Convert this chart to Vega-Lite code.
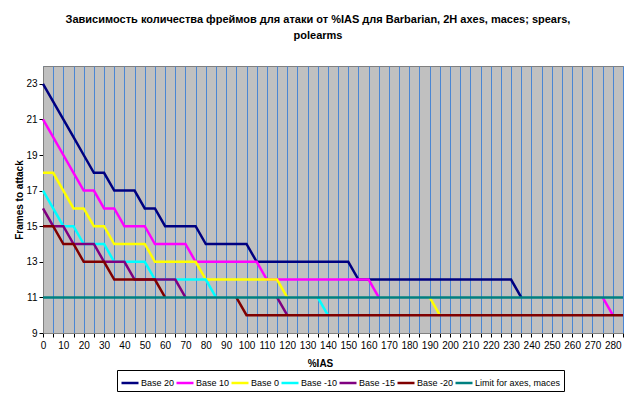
{
  "$schema": "https://vega.github.io/schema/vega-lite/v6.json",
  "width": 580,
  "height": 267,
  "autosize": {"type": "none"},
  "padding": {"left": 43, "top": 66, "right": 17, "bottom": 66},
  "background": "#ffffff",
  "config": {
    "font": "Liberation Sans",
    "view": {"fill": "#C0C0C0", "stroke": "#808080", "strokeWidth": 1}
  },
  "title": {
    "text": ["Зависимость количества фреймов для атаки от %IAS для Barbarian, 2H axes, maces; spears,", "polearms"],
    "font": "Liberation Sans",
    "fontSize": 11,
    "fontWeight": "bold",
    "color": "#000000",
    "lineHeight": 16,
    "anchor": "middle",
    "offset": 25,
    "dx": -15
  },
  "data": {
    "values": [
      {"x": 0, "Base 20": 23, "Base 10": 21, "Base 0": 18, "Base -10": 17, "Base -15": 16, "Base -20": 15, "Limit for axes, maces": 11},
      {"x": 5, "Base 20": 22, "Base 10": 20, "Base 0": 18, "Base -10": 16, "Base -15": 15, "Base -20": 15, "Limit for axes, maces": 11},
      {"x": 10, "Base 20": 21, "Base 10": 19, "Base 0": 17, "Base -10": 15, "Base -15": 15, "Base -20": 14, "Limit for axes, maces": 11},
      {"x": 15, "Base 20": 20, "Base 10": 18, "Base 0": 16, "Base -10": 15, "Base -15": 14, "Base -20": 14, "Limit for axes, maces": 11},
      {"x": 20, "Base 20": 19, "Base 10": 17, "Base 0": 16, "Base -10": 14, "Base -15": 14, "Base -20": 13, "Limit for axes, maces": 11},
      {"x": 25, "Base 20": 18, "Base 10": 17, "Base 0": 15, "Base -10": 14, "Base -15": 14, "Base -20": 13, "Limit for axes, maces": 11},
      {"x": 30, "Base 20": 18, "Base 10": 16, "Base 0": 15, "Base -10": 14, "Base -15": 13, "Base -20": 13, "Limit for axes, maces": 11},
      {"x": 35, "Base 20": 17, "Base 10": 16, "Base 0": 14, "Base -10": 13, "Base -15": 13, "Base -20": 12, "Limit for axes, maces": 11},
      {"x": 40, "Base 20": 17, "Base 10": 15, "Base 0": 14, "Base -10": 13, "Base -15": 13, "Base -20": 12, "Limit for axes, maces": 11},
      {"x": 45, "Base 20": 17, "Base 10": 15, "Base 0": 14, "Base -10": 13, "Base -15": 12, "Base -20": 12, "Limit for axes, maces": 11},
      {"x": 50, "Base 20": 16, "Base 10": 15, "Base 0": 14, "Base -10": 13, "Base -15": 12, "Base -20": 12, "Limit for axes, maces": 11},
      {"x": 55, "Base 20": 16, "Base 10": 14, "Base 0": 13, "Base -10": 12, "Base -15": 12, "Base -20": 12, "Limit for axes, maces": 11},
      {"x": 60, "Base 20": 15, "Base 10": 14, "Base 0": 13, "Base -10": 12, "Base -15": 12, "Base -20": 11, "Limit for axes, maces": 11},
      {"x": 65, "Base 20": 15, "Base 10": 14, "Base 0": 13, "Base -10": 12, "Base -15": 12, "Base -20": null, "Limit for axes, maces": 11},
      {"x": 70, "Base 20": 15, "Base 10": 14, "Base 0": 13, "Base -10": 12, "Base -15": 11, "Base -20": null, "Limit for axes, maces": 11},
      {"x": 75, "Base 20": 15, "Base 10": 13, "Base 0": 13, "Base -10": 12, "Base -15": null, "Base -20": null, "Limit for axes, maces": 11},
      {"x": 80, "Base 20": 14, "Base 10": 13, "Base 0": 12, "Base -10": 12, "Base -15": null, "Base -20": null, "Limit for axes, maces": 11},
      {"x": 85, "Base 20": 14, "Base 10": 13, "Base 0": 12, "Base -10": 11, "Base -15": null, "Base -20": null, "Limit for axes, maces": 11},
      {"x": 90, "Base 20": 14, "Base 10": 13, "Base 0": 12, "Base -10": null, "Base -15": null, "Base -20": null, "Limit for axes, maces": 11},
      {"x": 95, "Base 20": 14, "Base 10": 13, "Base 0": 12, "Base -10": null, "Base -15": null, "Base -20": 11, "Limit for axes, maces": 11},
      {"x": 100, "Base 20": 14, "Base 10": 13, "Base 0": 12, "Base -10": null, "Base -15": null, "Base -20": 10, "Limit for axes, maces": 11},
      {"x": 105, "Base 20": 13, "Base 10": 13, "Base 0": 12, "Base -10": null, "Base -15": null, "Base -20": 10, "Limit for axes, maces": 11},
      {"x": 110, "Base 20": 13, "Base 10": 12, "Base 0": 12, "Base -10": null, "Base -15": null, "Base -20": 10, "Limit for axes, maces": 11},
      {"x": 115, "Base 20": 13, "Base 10": 12, "Base 0": 12, "Base -10": null, "Base -15": 11, "Base -20": 10, "Limit for axes, maces": 11},
      {"x": 120, "Base 20": 13, "Base 10": 12, "Base 0": 11, "Base -10": null, "Base -15": 10, "Base -20": 10, "Limit for axes, maces": 11},
      {"x": 125, "Base 20": 13, "Base 10": 12, "Base 0": null, "Base -10": null, "Base -15": null, "Base -20": 10, "Limit for axes, maces": 11},
      {"x": 130, "Base 20": 13, "Base 10": 12, "Base 0": null, "Base -10": null, "Base -15": null, "Base -20": 10, "Limit for axes, maces": 11},
      {"x": 135, "Base 20": 13, "Base 10": 12, "Base 0": null, "Base -10": 11, "Base -15": null, "Base -20": 10, "Limit for axes, maces": 11},
      {"x": 140, "Base 20": 13, "Base 10": 12, "Base 0": null, "Base -10": 10, "Base -15": null, "Base -20": 10, "Limit for axes, maces": 11},
      {"x": 145, "Base 20": 13, "Base 10": 12, "Base 0": null, "Base -10": null, "Base -15": null, "Base -20": 10, "Limit for axes, maces": 11},
      {"x": 150, "Base 20": 13, "Base 10": 12, "Base 0": null, "Base -10": null, "Base -15": null, "Base -20": 10, "Limit for axes, maces": 11},
      {"x": 155, "Base 20": 12, "Base 10": 12, "Base 0": null, "Base -10": null, "Base -15": null, "Base -20": 10, "Limit for axes, maces": 11},
      {"x": 160, "Base 20": 12, "Base 10": 12, "Base 0": null, "Base -10": null, "Base -15": null, "Base -20": 10, "Limit for axes, maces": 11},
      {"x": 165, "Base 20": 12, "Base 10": 11, "Base 0": null, "Base -10": null, "Base -15": null, "Base -20": 10, "Limit for axes, maces": 11},
      {"x": 170, "Base 20": 12, "Base 10": null, "Base 0": null, "Base -10": null, "Base -15": null, "Base -20": 10, "Limit for axes, maces": 11},
      {"x": 175, "Base 20": 12, "Base 10": null, "Base 0": null, "Base -10": null, "Base -15": null, "Base -20": 10, "Limit for axes, maces": 11},
      {"x": 180, "Base 20": 12, "Base 10": null, "Base 0": null, "Base -10": null, "Base -15": null, "Base -20": 10, "Limit for axes, maces": 11},
      {"x": 185, "Base 20": 12, "Base 10": null, "Base 0": null, "Base -10": null, "Base -15": null, "Base -20": 10, "Limit for axes, maces": 11},
      {"x": 190, "Base 20": 12, "Base 10": null, "Base 0": 11, "Base -10": null, "Base -15": null, "Base -20": 10, "Limit for axes, maces": 11},
      {"x": 195, "Base 20": 12, "Base 10": null, "Base 0": 10, "Base -10": null, "Base -15": null, "Base -20": 10, "Limit for axes, maces": 11},
      {"x": 200, "Base 20": 12, "Base 10": null, "Base 0": null, "Base -10": null, "Base -15": null, "Base -20": 10, "Limit for axes, maces": 11},
      {"x": 205, "Base 20": 12, "Base 10": null, "Base 0": null, "Base -10": null, "Base -15": null, "Base -20": 10, "Limit for axes, maces": 11},
      {"x": 210, "Base 20": 12, "Base 10": null, "Base 0": null, "Base -10": null, "Base -15": null, "Base -20": 10, "Limit for axes, maces": 11},
      {"x": 215, "Base 20": 12, "Base 10": null, "Base 0": null, "Base -10": null, "Base -15": null, "Base -20": 10, "Limit for axes, maces": 11},
      {"x": 220, "Base 20": 12, "Base 10": null, "Base 0": null, "Base -10": null, "Base -15": null, "Base -20": 10, "Limit for axes, maces": 11},
      {"x": 225, "Base 20": 12, "Base 10": null, "Base 0": null, "Base -10": null, "Base -15": null, "Base -20": 10, "Limit for axes, maces": 11},
      {"x": 230, "Base 20": 12, "Base 10": null, "Base 0": null, "Base -10": null, "Base -15": null, "Base -20": 10, "Limit for axes, maces": 11},
      {"x": 235, "Base 20": 11, "Base 10": null, "Base 0": null, "Base -10": null, "Base -15": null, "Base -20": 10, "Limit for axes, maces": 11},
      {"x": 240, "Base 20": null, "Base 10": null, "Base 0": null, "Base -10": null, "Base -15": null, "Base -20": 10, "Limit for axes, maces": 11},
      {"x": 245, "Base 20": null, "Base 10": null, "Base 0": null, "Base -10": null, "Base -15": null, "Base -20": 10, "Limit for axes, maces": 11},
      {"x": 250, "Base 20": null, "Base 10": null, "Base 0": null, "Base -10": null, "Base -15": null, "Base -20": 10, "Limit for axes, maces": 11},
      {"x": 255, "Base 20": null, "Base 10": null, "Base 0": null, "Base -10": null, "Base -15": null, "Base -20": 10, "Limit for axes, maces": 11},
      {"x": 260, "Base 20": null, "Base 10": null, "Base 0": null, "Base -10": null, "Base -15": null, "Base -20": 10, "Limit for axes, maces": 11},
      {"x": 265, "Base 20": null, "Base 10": null, "Base 0": null, "Base -10": null, "Base -15": null, "Base -20": 10, "Limit for axes, maces": 11},
      {"x": 270, "Base 20": null, "Base 10": null, "Base 0": null, "Base -10": null, "Base -15": null, "Base -20": 10, "Limit for axes, maces": 11},
      {"x": 275, "Base 20": null, "Base 10": 11, "Base 0": null, "Base -10": null, "Base -15": null, "Base -20": 10, "Limit for axes, maces": 11},
      {"x": 280, "Base 20": null, "Base 10": 10, "Base 0": null, "Base -10": null, "Base -15": null, "Base -20": 10, "Limit for axes, maces": 11},
      {"x": 285, "Base 20": null, "Base 10": null, "Base 0": null, "Base -10": null, "Base -15": null, "Base -20": 10, "Limit for axes, maces": 11}
    ]
  },
  "transform": [
    {"fold": ["Base 20", "Base 10", "Base 0", "Base -10", "Base -15", "Base -20", "Limit for axes, maces"], "as": ["series", "frames"]}
  ],
  "mark": {"type": "line", "strokeWidth": 2.5, "invalid": "break-paths-show-domains", "strokeJoin": "miter"},
  "encoding": {
    "x": {
      "field": "x",
      "type": "quantitative",
      "scale": {"domain": [0, 285], "nice": false, "zero": false},
      "axis": {
        "title": "%IAS",
        "titleFont": "Liberation Sans",
        "titleFontSize": 10,
        "titleFontWeight": "bold",
        "titleColor": "#000000",
        "titlePadding": 8,
        "titleX": 277,
        "values": [0,5,10,15,20,25,30,35,40,45,50,55,60,65,70,75,80,85,90,95,100,105,110,115,120,125,130,135,140,145,150,155,160,165,170,175,180,185,190,195,200,205,210,215,220,225,230,235,240,245,250,255,260,265,270,275,280,285],
        "labelExpr": "datum.value % 10 === 0 && datum.value < 285 ? datum.label : ''",
        "labelFont": "Liberation Sans",
        "labelFontSize": 10,
        "labelColor": "#000000",
        "labelPadding": 3,
        "labelOverlap": false,
        "labelFlush": false,
        "grid": true,
        "gridColor": "#4A86D4",
        "gridOpacity": 1,
        "gridWidth": 1,
        "domainColor": "#808080",
        "tickColor": "#000000",
        "tickSize": 4,
        "encode": {"ticks": {"update": {"opacity": {"signal": "datum.value % 10 === 0 ? 1 : 0"}}}}
      }
    },
    "y": {
      "field": "frames",
      "type": "quantitative",
      "scale": {"domain": [9, 24], "nice": false, "zero": false},
      "axis": {
        "title": "Frames to attack",
        "titleFont": "Liberation Sans",
        "titleFontSize": 10,
        "titleFontWeight": "bold",
        "titleColor": "#000000",
        "titlePadding": 1,
        "values": [9, 11, 13, 15, 17, 19, 21, 23],
        "labelFont": "Liberation Sans",
        "labelFontSize": 10,
        "labelColor": "#000000",
        "labelPadding": 2,
        "grid": false,
        "domainColor": "#808080",
        "tickColor": "#000000",
        "tickSize": 4
      }
    },
    "color": {
      "field": "series",
      "type": "nominal",
      "scale": {
        "domain": ["Base 20", "Base 10", "Base 0", "Base -10", "Base -15", "Base -20", "Limit for axes, maces"],
        "range": ["#000080", "#FF00FF", "#FFFF00", "#00FFFF", "#800080", "#800000", "#008080"]
      },
      "legend": {
        "title": null,
        "orient": "none",
        "legendX": 74,
        "legendY": 304,
        "direction": "horizontal",
        "columns": 7,
        "strokeColor": "#000000",
        "padding": 3,
        "symbolType": "stroke",
        "symbolSize": 289,
        "symbolStrokeWidth": 2.5,
        "labelFont": "Liberation Sans",
        "labelFontSize": 9,
        "labelColor": "#000000",
        "labelOffset": 1,
        "columnPadding": -9,
        "labelLimit": 200
      }
    }
  }
}
